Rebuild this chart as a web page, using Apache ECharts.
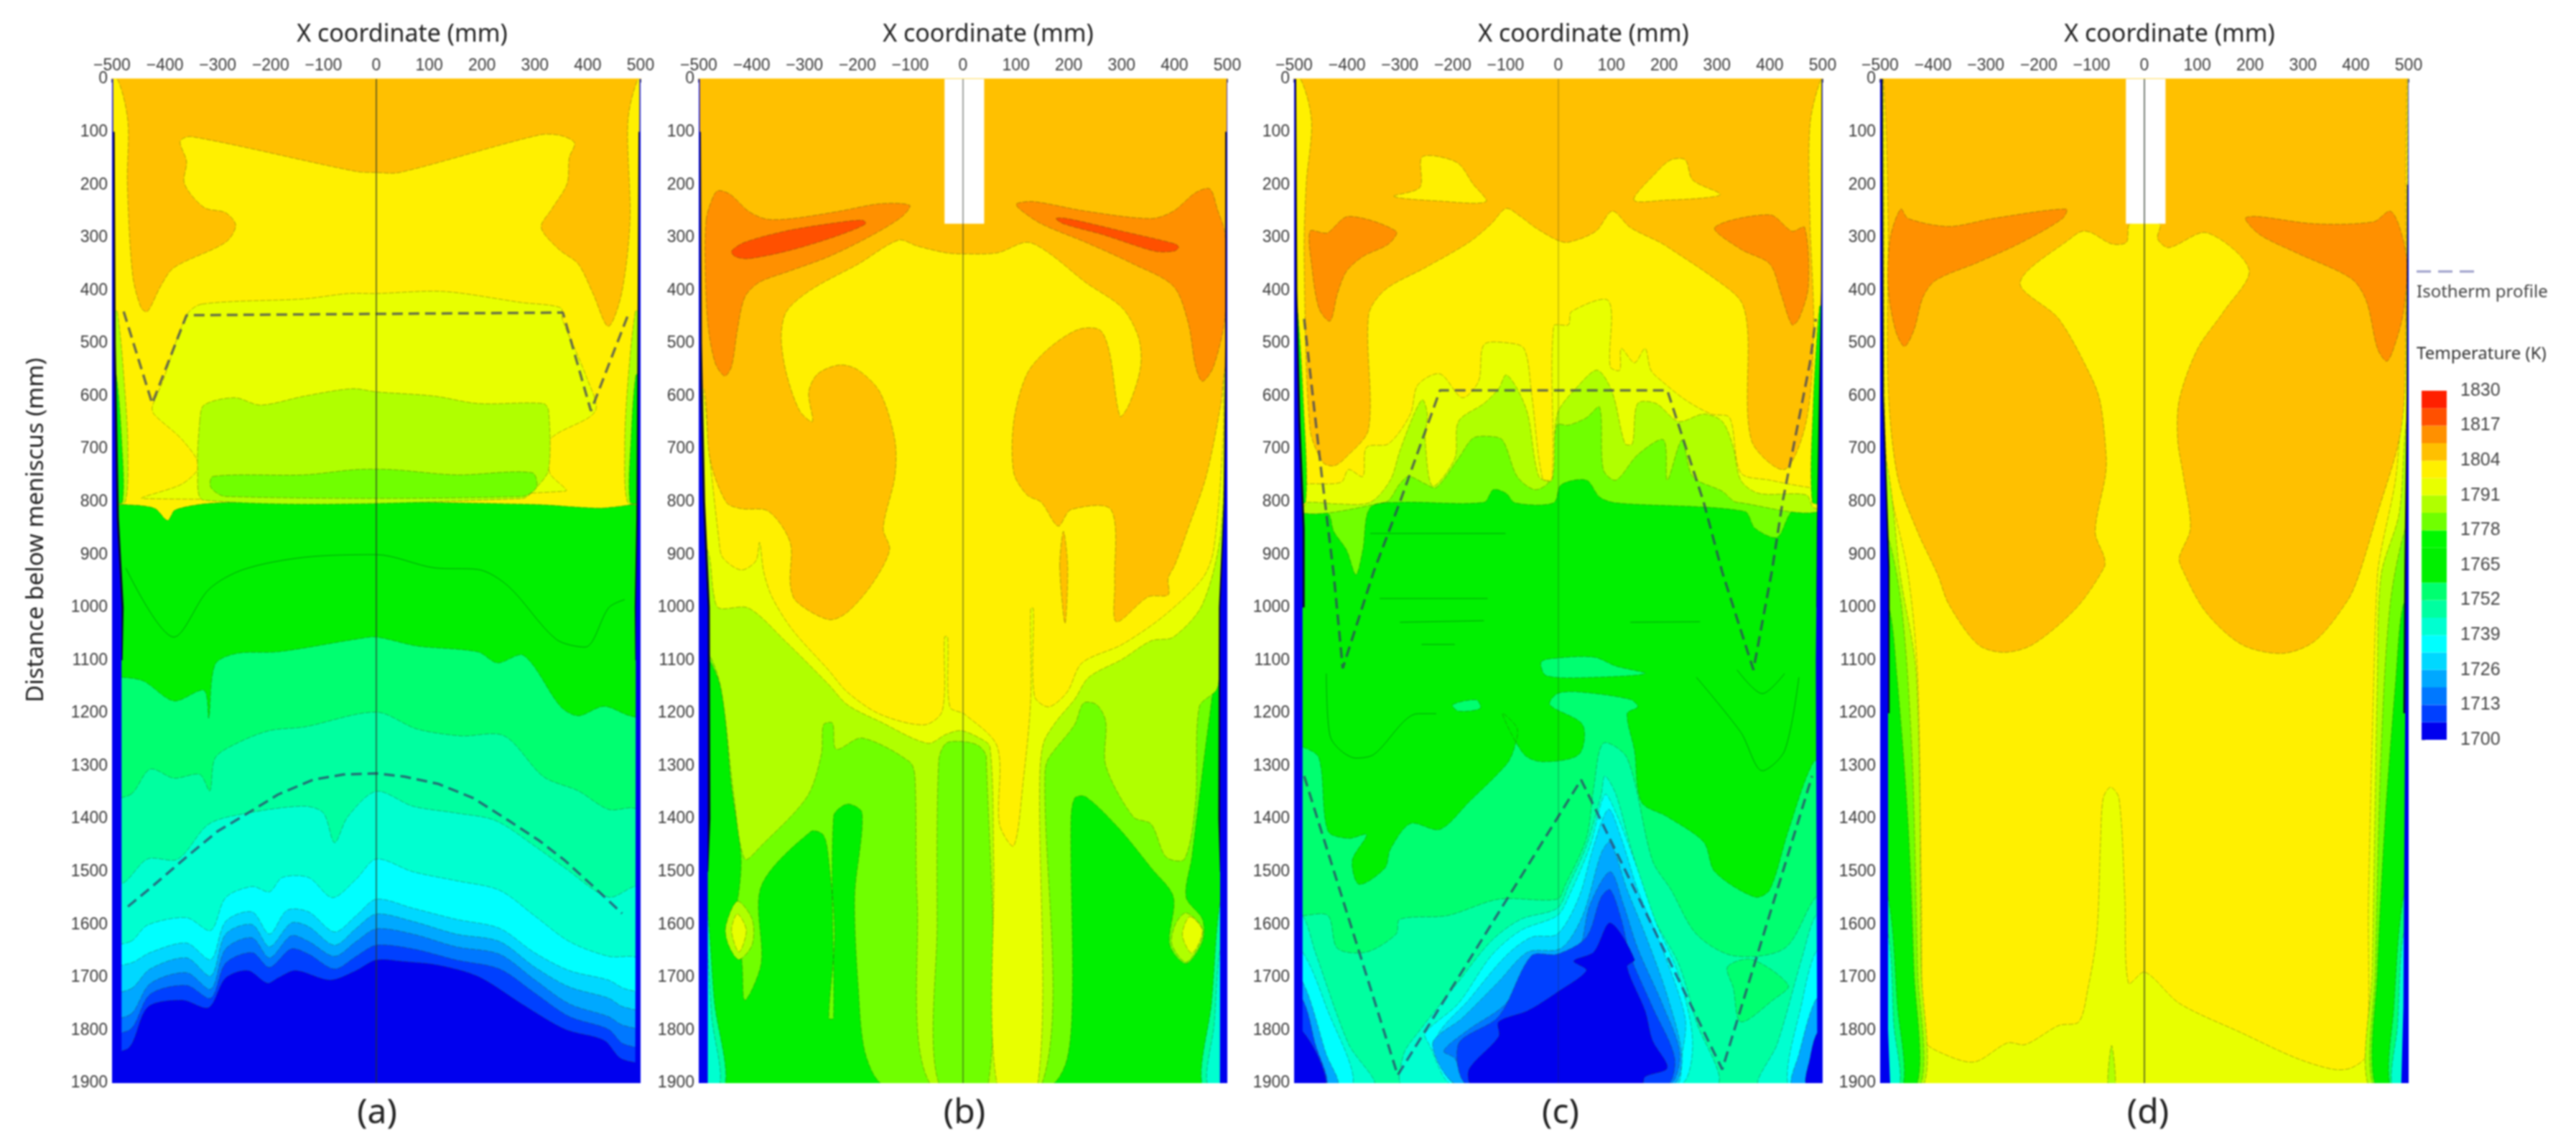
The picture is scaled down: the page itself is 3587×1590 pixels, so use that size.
<!DOCTYPE html>
<html><head><meta charset="utf-8">
<style>html,body{margin:0;padding:0;background:#fff}#c{width:3587px;height:1590px}canvas{filter:blur(1px)}</style>
<script src="https://cdn.jsdelivr.net/npm/echarts@6/dist/echarts.min.js"></script>
</head><body><div id="c"></div>
<script>
// ---------- colour scale ----------
const bandColors=['#0000ee','#0040ff','#0078ff','#00a8ff','#00d8ff','#00ffff','#00ffd0','#00ffa0','#00ff70','#00f000','#00f000','#00f800','#70ff00','#b0ff00','#e8ff00','#fff000','#ffc000','#ff9000','#ff5000','#ff2000','#0a0a30','#ffffff'];
const bandLows=[1700,1706.5,1713,1719.5,1726,1732.5,1739,1745.5,1752,1758.5,1765,1771.5,1778,1784.5,1791,1797.5,1804,1810.5,1817,1823.5];
const tempTicks=[1700,1713,1726,1739,1752,1765,1778,1791,1804,1817,1830];
const xTicks=[-500,-400,-300,-200,-100,0,100,200,300,400,500];
const INK=20,WHITE=21;
const full=[[-510,-10],[510,-10],[510,1910],[-510,1910]];
const notch=[[-35,-10],[40,-10],[40,274],[-35,274]];
function up(p){return p.concat([[510,p[p.length-1][1]],[510,-10],[-510,-10],[-510,p[0][1]]]);}

// ---------- panel (a) contours, mm ----------
const a_c1=[[-482,1132],[-441,1139],[-383,1177],[-326,1157],[-317,1209],[-305,1108],[-264,1087],[-186,1084],[-38,1060],[0,1056],[77,1073],[192,1084],[229,1105],[279,1091],[349,1188],[382,1205],[431,1187],[480,1205]];
const a_c2=[[-465,1354],[-428,1306],[-383,1323],[-334,1316],[-315,1347],[-305,1285],[-264,1257],[-202,1233],[-136,1226],[0,1198],[77,1230],[160,1243],[242,1243],[316,1320],[382,1347],[439,1382],[480,1379]];
const a_c3=[[-478,1521],[-433,1476],[-375,1476],[-317,1410],[-243,1389],[-136,1376],[-100,1389],[-79,1445],[-54,1396],[0,1348],[69,1376],[151,1389],[225,1403],[299,1451],[357,1493],[439,1548],[488,1528]];
const a_c4=[[-465,1632],[-433,1601],[-359,1587],[-313,1611],[-285,1549],[-235,1528],[-202,1538],[-178,1511],[-128,1511],[-83,1549],[-38,1514],[0,1476],[69,1500],[151,1517],[233,1535],[299,1583],[365,1632],[439,1660],[480,1660]];
const a_c5=[[-465,1673],[-428,1653],[-359,1635],[-313,1666],[-285,1594],[-235,1576],[-202,1618],[-169,1573],[-128,1576],[-79,1614],[-38,1583],[0,1552],[69,1569],[151,1590],[233,1607],[299,1653],[365,1687],[439,1705],[472,1722]];
const a_c6=[[-465,1722],[-428,1684],[-359,1663],[-313,1697],[-285,1618],[-235,1600],[-202,1642],[-161,1597],[-128,1604],[-79,1639],[-38,1607],[0,1580],[69,1594],[151,1618],[233,1632],[299,1680],[365,1718],[439,1739],[468,1756]];
const a_c7=[[-465,1770],[-428,1712],[-359,1691],[-313,1722],[-285,1646],[-235,1625],[-202,1663],[-161,1621],[-128,1632],[-79,1660],[-38,1632],[0,1608],[69,1618],[151,1642],[233,1656],[299,1704],[365,1750],[439,1774],[468,1791]];
const a_c8=[[-465,1798],[-428,1732],[-359,1715],[-313,1739],[-285,1673],[-235,1653],[-202,1681],[-161,1646],[-128,1656],[-79,1684],[-38,1660],[0,1639],[69,1646],[151,1667],[233,1684],[299,1729],[365,1774],[439,1798],[468,1826]];
const a_c9=[[-468,1833],[-432,1756],[-367,1743],[-317,1757],[-285,1701],[-243,1687],[-206,1711],[-186,1701],[-153,1687],[-87,1705],[-38,1687],[0,1667],[53,1670],[118,1677],[192,1698],[275,1750],[357,1798],[431,1819],[464,1854]];
const a_yellow=[[-480,805],[-420,812],[-395,835],[-380,815],[-300,802],[0,800],[300,805],[420,812],[465,808],[485,805]];
const a_e8=[[-330,426],[-359,447],[-404,572],[-424,621],[-420,635],[-367,683],[-336,732],[-367,766],[-441,794],[357,780],[328,745],[328,683],[414,629],[398,565],[352,455],[349,433],[275,423],[127,402],[0,406],[-54,406],[-136,416]];
const a_lime=[[-334,648],[-326,617],[-268,603],[-219,617],[-136,600],[-46,586],[0,592],[110,600],[192,614],[316,614],[326,628],[326,739],[303,773],[275,794],[-326,797],[-338,739]];
const a_70=[[-309,752],[-136,749],[-38,739],[28,739],[151,749],[295,745],[303,773],[275,790],[-285,790],[-313,773]];
const a_orange=[[-490,0],[-470,80],[-471,198],[-461,371],[-445,433],[-433,440],[-408,392],[-383,357],[-285,309],[-266,277],[-285,253],[-326,243],[-363,198],[-359,156],[-371,118],[-350,109],[-38,175],[0,177],[44,177],[308,106],[349,107],[375,121],[365,149],[361,198],[332,246],[312,281],[345,322],[382,350],[410,406],[439,468],[464,406],[480,267],[476,80],[495,0]];
const a_wallL13=[[-490,440],[-475,600],[-470,700],[-475,800],[-500,800],[-500,440]];
const a_wallL9=[[-492,560],[-482,680],[-480,800],[-500,800],[-500,560]];
const a_wallR13=[[490,440],[474,600],[470,700],[475,800],[500,800],[500,440]];
const a_wallR9=[[491,560],[482,680],[480,800],[500,800],[500,560]];
const a_inkL=[[-500,100],[-495,100],[-493,500],[-487,830],[-478,1000],[-480,1100],[-500,1100]];
const a_inkR=[[500,100],[496,100],[494,500],[492,830],[489,1000],[490,1100],[500,1100]];
const a_blueL=[[-500,0],[-498,0],[-497,500],[-491,830],[-482,1000],[-482,1900],[-500,1900]];
const a_blueR=[[500,0],[498,0],[497,500],[495,830],[491,1000],[490,1900],[500,1900]];
const a_line1=[[-474,925],[-383,1056],[-317,966],[-251,928],[-136,905],[0,900],[110,925],[192,928],[250,960],[340,1060],[395,1075],[440,1000],[470,985]];
const a_iso1=[[-478,440],[-424,614],[-359,447],[353,442],[406,628],[476,447]];
const a_iso2=[[-470,1566],[-424,1528],[-359,1472],[-301,1424],[-243,1389],[-186,1354],[-120,1326],[-62,1316],[0,1314],[53,1320],[118,1334],[184,1361],[250,1403],[308,1441],[357,1479],[414,1531],[465,1579]];

// ---------- panel (b) contours, mm ----------
const b_12=[[-490,1084],[-458,1153],[-438,1340],[-420,1472],[-427,1556],[-444,1608],[-420,1660],[-413,1743],[-382,1674],[-382,1528],[-288,1424],[-264,1431],[-254,1479],[-243,1618],[-254,1777],[-245,1777],[-245,1396],[-219,1372],[-191,1389],[-205,1548],[-198,1722],[-184,1847],[-146,1905],[162,1905],[197,1854],[207,1722],[204,1410],[211,1361],[232,1358],[294,1417],[356,1493],[398,1548],[391,1638],[422,1674],[453,1632],[453,1590],[422,1548],[433,1472],[467,1202],[488,1077]];
const b_13=[[-484,1084],[-458,1153],[-434,1354],[-413,1476],[-382,1451],[-295,1358],[-268,1278],[-264,1222],[-247,1219],[-240,1268],[-191,1247],[-101,1292],[-91,1320],[-87,1548],[-60,1905],[148,1905],[155,1313],[162,1285],[211,1222],[228,1181],[253,1184],[270,1216],[270,1299],[322,1396],[356,1410],[384,1472],[419,1476],[440,1368],[447,1188],[481,1153],[488,1070]];
const b_inner=[[-46,1900],[-49,1600],[-46,1290],[-32,1257],[3,1254],[30,1262],[44,1283],[48,1900]];
const b_14=[[-484,890],[-472,973],[-462,1001],[-406,1001],[-337,1063],[-254,1146],[-219,1184],[-157,1216],[-67,1257],[-32,1240],[-4,1233],[31,1247],[51,1264],[58,1479],[65,1905],[141,1905],[145,1327],[152,1257],[176,1216],[211,1174],[238,1132],[301,1098],[356,1063],[398,1056],[453,994],[488,855],[500,544]];
const b_15=[[-493,586],[-479,718],[-462,870],[-455,905],[-420,929],[-392,912],[-385,877],[-377,933],[-361,981],[-323,1042],[-254,1119],[-219,1160],[-157,1202],[-73,1222],[-39,1195],[-35,1056],[-29,1056],[-25,1188],[3,1202],[65,1264],[69,1410],[96,1451],[114,1327],[128,1174],[128,1002],[133,1002],[135,1167],[162,1188],[197,1160],[225,1105],[301,1070],[381,1015],[453,945],[474,891],[492,683],[495,544]];
const b_16=[[-490,586],[-479,718],[-448,801],[-420,813],[-368,818],[-327,877],[-327,954],[-316,988],[-254,1023],[-219,1009],[-171,954],[-139,891],[-151,850],[-129,752],[-129,683],[-157,593],[-198,551],[-233,541],[-275,558],[-292,593],[-285,648],[-309,628],[-334,558],[-344,489],[-334,440],[-288,399],[-198,350],[-122,305],[-87,316],[-32,329],[0,331],[65,329],[121,309],[162,329],[232,385],[301,433],[332,489],[336,544],[315,614],[297,638],[277,517],[259,475],[218,474],[162,510],[121,558],[96,648],[96,745],[121,787],[148,801],[180,846],[204,815],[280,815],[287,954],[290,1027],[350,980],[388,976],[388,945],[401,919],[426,850],[460,752],[488,614],[497,544]];
const b_spike=[[183,923],[190,856],[198,923],[193,1030]];
const b_17L=[[-486,267],[-479,239],[-465,212],[-441,218],[-406,250],[-372,265],[-323,264],[-233,250],[-157,236],[-101,239],[-115,260],[-171,295],[-254,336],[-330,364],[-386,385],[-413,413],[-427,475],[-438,544],[-451,562],[-469,537],[-483,461],[-488,336]];
const b_18L=[[-438,326],[-413,309],[-337,288],[-254,274],[-191,267],[-184,274],[-233,295],[-323,323],[-406,340],[-431,336]];
const b_17R=[[101,236],[134,232],[232,250],[356,264],[398,250],[440,215],[467,208],[481,246],[496,295],[496,447],[474,544],[453,572],[440,544],[426,461],[398,392],[322,350],[232,309],[148,274],[107,246]];
const b_18R=[[176,264],[197,264],[301,288],[401,312],[408,319],[398,326],[363,326],[266,295],[190,274]];
const b_elL13=[[-427,1556],[-399,1590],[-399,1638],[-424,1666],[-444,1638],[-449,1604]];
const b_elL14=[[-427,1580],[-410,1611],[-424,1652],[-438,1611]];
const b_elR13=[[422,1578],[452,1605],[450,1633],[422,1671],[395,1637],[402,1599]];
const b_elR14=[[429,1585],[453,1612],[433,1654],[415,1620]];
const b_c7L=[[-486,1560],[-470,1750],[-450,1900],[-500,1900],[-500,1560]];
const b_c6L=[[-486,1640],[-475,1780],[-460,1900],[-500,1900],[-500,1640]];
const b_c7R=[[486,1560],[470,1750],[452,1900],[500,1900],[500,1560]];
const b_c6R=[[486,1650],[475,1790],[462,1900],[500,1900],[500,1650]];
const b_inkL=[[-500,100],[-496,100],[-494,500],[-488,800],[-479,1000],[-478,1400],[-482,1500],[-500,1500]];
const b_inkR=[[500,100],[496,100],[496,500],[493,800],[484,1000],[483,1400],[486,1500],[500,1500]];
const b_blueL=[[-500,0],[-498,0],[-497,600],[-492,800],[-483,1000],[-483,1900],[-500,1900]];
const b_blueR=[[500,0],[499,0],[498,600],[495,800],[487,1000],[486,1900],[500,1900]];

// ---------- panel (c) contours, mm ----------
const c_7=[[-510,-10],[510,-10],[510,1910],[-510,1910]];
const c_8=[[-484,1583],[-436,1583],[-418,1645],[-363,1652],[-307,1618],[-300,1590],[-210,1583],[-113,1552],[-2,1552],[12,1527],[53,1437],[67,1340],[85,1257],[130,1285],[178,1479],[213,1534],[261,1618],[331,1659],[428,1645],[487,1548]];
const c_8patch=[[320,1680],[366,1666],[435,1715],[407,1742],[345,1784],[331,1720]];
const c_lens=[[-33,1104],[-16,1097],[67,1094],[109,1111],[164,1125],[67,1132],[-23,1129]];
const c_lens2=[[-200,1184],[-155,1175],[-148,1191],[-189,1196]];
const c_9=[[-484,1264],[-453,1285],[-436,1423],[-397,1437],[-363,1430],[-390,1479],[-377,1524],[-328,1493],[-318,1458],[-280,1409],[-224,1420],[-169,1368],[-99,1298],[-85,1271],[-78,1229],[-106,1201],[-65,1278],[-30,1292],[39,1278],[46,1222],[-16,1184],[-2,1163],[39,1160],[136,1174],[150,1188],[130,1201],[144,1271],[157,1368],[206,1396],[275,1444],[296,1500],[372,1548],[400,1534],[435,1423],[483,1292]];
const c_b6=[[-293,1846],[-266,1805],[-189,1708],[-127,1631],[-71,1590],[-2,1569],[19,1527],[53,1451],[81,1354],[88,1319],[109,1354],[136,1451],[178,1583],[227,1673],[261,1784],[296,1905],[-293,1905]];
const c_b5=[[-252,1805],[-189,1749],[-127,1659],[-71,1611],[-2,1583],[19,1548],[60,1451],[88,1354],[109,1389],[144,1479],[185,1597],[227,1694],[254,1826],[227,1905],[-196,1905],[-245,1826]];
const c_b4=[[-231,1819],[-169,1742],[-99,1659],[-51,1624],[-2,1618],[39,1548],[67,1451],[95,1382],[119,1437],[150,1534],[199,1652],[240,1777],[234,1846],[220,1905],[-189,1905]];
const c_b3=[[-238,1826],[-182,1777],[-113,1708],[-58,1652],[5,1645],[46,1583],[81,1465],[98,1444],[130,1534],[164,1618],[206,1735],[234,1853],[213,1905],[-186,1905]];
const c_b2=[[-217,1839],[-169,1798],[-106,1756],[-44,1687],[33,1659],[60,1562],[98,1500],[123,1562],[150,1645],[199,1756],[230,1846],[206,1905],[-169,1905],[-196,1853]];
const c_b1=[[-189,1826],[-113,1774],[-51,1659],[-2,1656],[53,1624],[81,1548],[98,1534],[119,1590],[136,1659],[178,1756],[220,1853],[202,1905],[-169,1905]];
const c_b0=[[-169,1874],[-113,1812],[-113,1784],[-58,1763],[-2,1728],[53,1687],[29,1669],[67,1652],[98,1597],[144,1666],[130,1680],[164,1763],[178,1819],[206,1871],[164,1888],[157,1905],[-162,1905]];
const c_L6=[[-484,1583],[-460,1652],[-397,1826],[-349,1905],[-510,1905],[-510,1583]];
const c_L5=[[-484,1652],[-439,1756],[-390,1905],[-510,1905],[-510,1652]];
const c_L3=[[-484,1708],[-439,1846],[-418,1905],[-510,1905],[-510,1708]];
const c_L1=[[-484,1742],[-460,1826],[-439,1905],[-510,1905],[-510,1742]];
const c_L0=[[-488,1798],[-453,1853],[-442,1905],[-510,1905],[-510,1798]];
const c_R6=[[487,1583],[462,1659],[414,1826],[379,1905],[510,1905],[510,1583]];
const c_R5=[[487,1652],[462,1742],[435,1905],[510,1905],[510,1652]];
const c_R3=[[487,1742],[455,1846],[442,1905],[510,1905],[510,1742]];
const c_R0=[[490,1805],[476,1853],[469,1905],[510,1905],[510,1805]];
const c_12=[[-484,811],[-436,822],[-425,856],[-401,891],[-383,938],[-370,891],[-356,811],[-300,801],[-141,801],[-123,777],[-99,784],[-82,802],[-9,802],[5,768],[53,759],[78,791],[109,802],[352,818],[372,850],[414,867],[442,818],[483,811]];
const c_13=[[-328,801],[-300,766],[-283,752],[-252,766],[-231,773],[-189,718],[-162,680],[-134,676],[-106,683],[-78,752],[-44,777],[-16,759],[-3,655],[19,655],[53,641],[78,621],[85,739],[109,759],[150,711],[199,683],[206,759],[234,683],[254,752],[310,780],[338,801]];
const c_14=[[-484,811],[-474,801],[-418,804],[-356,801],[-318,759],[-300,704],[-273,634],[-257,607],[-248,634],[-252,683],[-238,770],[-196,718],[-189,648],[-141,614],[-113,586],[-99,560],[-78,586],[-58,634],[-37,752],[-12,759],[-2,634],[39,579],[74,551],[102,593],[126,690],[140,690],[150,614],[185,614],[227,648],[275,634],[310,648],[331,697],[345,759],[379,784],[469,787],[483,811]];
const c_15=[[-470,766],[-411,763],[-397,739],[-370,752],[-363,697],[-321,690],[-280,634],[-266,579],[-224,558],[-182,603],[-151,572],[-141,503],[-99,499],[-65,510],[-51,593],[-30,756],[-12,756],[-9,468],[19,465],[25,440],[95,420],[98,544],[116,551],[119,510],[144,537],[164,510],[175,551],[196,572],[240,607],[289,634],[324,641],[345,745],[400,759],[476,773]];
const c_16=[[-488,0],[-467,80],[-477,198],[-481,336],[-470,662],[-446,725],[-425,732],[-404,718],[-359,662],[-359,447],[-328,399],[-252,357],[-169,309],[-127,274],[-99,245],[-72,260],[-44,281],[-2,305],[19,309],[71,288],[102,250],[136,281],[192,309],[213,322],[296,378],[345,420],[358,475],[365,683],[428,739],[469,648],[483,475],[476,267],[476,87],[497,0]];
const c_17L=[[-470,288],[-446,291],[-436,291],[-397,260],[-307,288],[-321,312],[-370,336],[-401,364],[-418,406],[-432,458],[-453,434],[-467,350]];
const c_17R=[[296,281],[400,257],[442,288],[466,281],[473,392],[455,454],[442,465],[421,406],[400,350],[345,322]];
const c_yL=[[-311,222],[-262,205],[-259,149],[-231,146],[-189,160],[-162,198],[-137,232],[-224,231]];
const c_yR=[[143,229],[185,177],[213,153],[240,153],[254,191],[306,218],[275,225],[206,229]];
const c_wallL9=[[-494,430],[-482,620],[-478,800],[-500,800],[-500,430]];
const c_wallR9=[[494,430],[482,620],[480,800],[500,800],[500,430]];
const c_inkL=[[-500,0],[-496,0],[-494,400],[-488,650],[-480,850],[-480,1000],[-500,1000]];
const c_inkR=[[500,0],[498,0],[497,400],[492,650],[489,850],[488,1000],[500,1000]];
const c_blueL=[[-500,0],[-498,0],[-497,400],[-492,650],[-484,850],[-484,1900],[-500,1900]];
const c_blueR=[[500,0],[499,0],[498,400],[495,650],[490,850],[487,1100],[490,1900],[500,1900]];
const c_l1=[[-338,983],[-134,983]];
const c_l2=[[-300,1028],[-141,1025]];
const c_l3=[[-259,1070],[-196,1070]];
const c_l4=[[136,1028],[268,1027]];
const c_l5=[[-439,1125],[-432,1243],[-383,1285],[-349,1278],[-266,1201],[-231,1201]];
const c_l6=[[261,1132],[345,1236],[386,1309],[428,1271],[455,1132]];
const c_l7=[[338,1118],[386,1163],[428,1125]];
const c_l8=[[-356,860],[-100,860]];
const c_iso1=[[-481,454],[-467,579],[-449,739],[-425,938],[-408,1115],[-349,931],[-300,801],[-224,589],[206,589],[275,801],[310,933],[369,1118],[404,931],[424,801],[476,537],[487,454]];
const c_iso2=[[-481,1319],[-304,1885],[43,1326],[310,1874],[480,1319]];

// ---------- panel (d) contours, mm ----------
const d_15=[[-495,0],[-492,579],[-485,752],[-447,938],[-429,1132],[-422,1548],[-415,1819],[-384,1843],[-322,1860],[-259,1824],[-225,1827],[-162,1791],[-124,1784],[-107,1722],[-90,1618],[-83,1444],[-78,1361],[-64,1340],[-48,1361],[-37,1548],[-30,1711],[1,1690],[66,1749],[184,1805],[288,1853],[358,1874],[392,1871],[420,1846],[424,1548],[434,1132],[441,938],[448,891],[476,752],[486,610],[497,400],[500,0]];
const d_spike=[[-69,1905],[-62,1829],[-55,1905]];
const d_16=[[-494,0],[-485,267],[-485,579],[-467,752],[-429,857],[-391,938],[-370,994],[-315,1070],[-266,1085],[-211,1070],[-128,1000],[-76,924],[-76,905],[-93,857],[-74,752],[-72,718],[-83,614],[-100,565],[-162,454],[-235,385],[-135,298],[-117,288],[-100,291],[-62,312],[-34,309],[-27,274],[29,274],[25,302],[46,319],[118,291],[198,361],[150,440],[101,510],[66,607],[63,683],[74,752],[87,850],[66,905],[70,924],[115,1007],[184,1070],[261,1087],[323,1063],[385,986],[406,938],[441,822],[482,683],[493,579],[497,0]];
const d_17L=[[-461,246],[-447,264],[-370,279],[-287,264],[-148,246],[-155,264],[-232,309],[-315,347],[-395,381],[-419,413],[-436,475],[-454,506],[-471,475],[-485,392],[-481,302]];
const d_17R=[[191,264],[212,260],[323,274],[434,270],[465,250],[483,281],[497,350],[489,447],[469,517],[458,534],[441,510],[420,420],[392,378],[288,329],[219,295]];
const d_L13=[[-488,725],[-462,938],[-431,1132],[-422,1687],[-418,1905],[-510,1905],[-510,725]];
const d_L12=[[-490,850],[-460,994],[-440,1271],[-429,1687],[-424,1905],[-510,1905],[-510,850]];
const d_L9=[[-485,994],[-468,1132],[-447,1410],[-436,1687],[-431,1905],[-510,1905],[-510,994]];
const d_L8=[[-485,1548],[-467,1756],[-457,1905],[-510,1905],[-510,1548]];
const d_L6=[[-485,1618],[-474,1791],[-464,1905],[-510,1905],[-510,1618]];
const d_L0=[[-500,0],[-498,0],[-496,600],[-485,924],[-485,1798],[-481,1900],[-500,1900]];
const d_R13=[[496,650],[482,822],[448,938],[441,1132],[431,1687],[424,1905],[510,1905],[510,650]];
const d_R12=[[494,850],[465,994],[448,1271],[437,1687],[433,1905],[510,1905],[510,850]];
const d_R9=[[490,994],[476,1132],[455,1410],[441,1687],[437,1905],[510,1905],[510,994]];
const d_R8=[[490,1548],[472,1756],[465,1905],[510,1905],[510,1548]];
const d_R6=[[490,1618],[479,1791],[469,1905],[510,1905],[510,1618]];
const d_R0=[[500,0],[499,0],[498,600],[495,924],[490,1756],[486,1900],[500,1900]];
const d_inkL=[[-500,0],[-495,0],[-493,600],[-482,924],[-482,1200],[-500,1200]];
const d_inkR=[[500,200],[497,200],[496,600],[492,924],[490,1200],[500,1200]];

// ---------- region stacks, painted in order: [band, points, smooth] ----------
const panelA=[[0,full,0],[1,up(a_c9)],[2,up(a_c8)],[3,up(a_c7)],[4,up(a_c6)],[5,up(a_c5)],[6,up(a_c4)],[7,up(a_c3)],[8,up(a_c2)],[9,up(a_c1)],[15,up(a_yellow)],[14,a_e8],[13,a_lime],[12,a_70],[16,up(a_orange)],[13,a_wallL13],[9,a_wallL9],[13,a_wallR13],[9,a_wallR9],[INK,a_inkL,0],[INK,a_inkR,0],[0,a_blueL,0],[0,a_blueR,0]];
const panelB=[[9,full,0],[7,b_c7L],[6,b_c6L],[7,b_c7R],[6,b_c6R],[12,up(b_12)],[13,up(b_13)],[12,b_inner],[13,b_elL13],[14,b_elL14],[13,b_elR13],[14,b_elR14],[14,up(b_14)],[15,up(b_15)],[16,up(b_16)],[16,b_spike],[17,b_17L],[18,b_18L],[17,b_17R],[18,b_18R],[INK,b_inkL,0],[INK,b_inkR,0],[0,b_blueL,0],[0,b_blueR,0],[WHITE,notch,0]];
const panelC=[[7,c_7,0],[8,up(c_8)],[8,c_8patch],[6,c_b6],[5,c_b5],[4,c_b4],[3,c_b3],[2,c_b2],[1,c_b1],[0,c_b0],[6,c_L6],[5,c_L5],[3,c_L3],[1,c_L1],[0,c_L0],[6,c_R6],[5,c_R5],[3,c_R3],[0,c_R0],[9,up(c_9)],[8,c_lens],[8,c_lens2],[12,up(c_12)],[13,up(c_13)],[14,up(c_14)],[15,up(c_15)],[16,up(c_16)],[17,c_17L],[17,c_17R],[15,c_yL],[15,c_yR],[9,c_wallL9],[9,c_wallR9],[INK,c_inkL,0],[INK,c_inkR,0],[0,c_blueL,0],[0,c_blueR,0]];
const panelD=[[14,full,0],[15,up(d_15)],[13,d_spike],[16,up(d_16)],[17,d_17L],[17,d_17R],[13,d_L13],[12,d_L12],[9,d_L9],[8,d_L8],[6,d_L6],[13,d_R13],[12,d_R12],[9,d_R9],[8,d_R8],[6,d_R6],[INK,d_inkL,0],[INK,d_inkR,0],[0,d_L0,0],[0,d_R0,0],[WHITE,notch,0]];

const centerLine=[[0,0],[0,1900]];
const centerAlpha=[0.85,0.6,0.3,0.85];
const grids=[156,973,1802,2618];
const panels=[panelA,panelB,panelC,panelD];
const isos=[[a_iso1,a_iso2],[],[c_iso1,c_iso2],[]];
const thin=[[a_line1],[],[c_l1,c_l2,c_l3,c_l4,c_l5,c_l6,c_l7,c_l8],[]];
const xTitleX=[560,1376,2205,3021];
const caption=['(a)','(b)','(c)','(d)'];
const captionX=[525,1343,2173,2991];

const AXF='"Liberation Sans"',TF='"Noto Sans"';
const option={animation:false,backgroundColor:'#fff',grid:[],xAxis:[],yAxis:[],series:[],graphic:[]};
grids.forEach((L,i)=>{
  option.grid.push({left:L,top:110,width:736,height:1398});
  option.xAxis.push({type:'value',gridIndex:i,position:'top',min:-500,max:500,interval:100,
    axisLine:{show:true,onZero:false,lineStyle:{color:'#ffdc50',width:2}},
    axisTick:{show:true,inside:true,length:5,lineStyle:{color:'#333',width:1.5}},
    minorTick:{show:true,splitNumber:2,length:3,lineStyle:{color:'#555'}},
    splitLine:{show:false},
    axisLabel:{show:true,margin:7,fontFamily:AXF,fontSize:23,color:'#3a3a3a',formatter:v=>String(v).replace('-','\u2212')}});
  option.yAxis.push({type:'value',gridIndex:i,inverse:true,min:0,max:1900,interval:100,
    axisLine:{show:false},axisTick:{show:false},splitLine:{show:false},
    axisLabel:{show:true,margin:6,fontFamily:AXF,fontSize:23,color:'#3a3a3a',formatter:v=>String(v)}});
  const regs=panels[i];
  option.series.push({type:'custom',xAxisIndex:i,yAxisIndex:i,clip:true,silent:true,z:1,
    data:regs.map(()=>[0,0]),
    renderItem:(p,api)=>{
      const r=regs[p.dataIndex];
      const pts=r[1].map(q=>api.coord(q));
      const plain=r[2]===0;
      return {type:'polygon',shape:{points:pts,smooth:plain?0:0.3},
        style:{fill:bandColors[r[0]],stroke:plain?null:'rgba(50,60,20,0.38)',lineWidth:1,lineDash:[7,2]}};
    }});
  thin[i].forEach(d=>option.series.push({type:'line',xAxisIndex:i,yAxisIndex:i,data:d,showSymbol:false,smooth:0.3,silent:true,z:2,
    lineStyle:{color:'rgba(0,90,20,0.55)',width:1}}));
  isos[i].forEach(d=>option.series.push({type:'line',xAxisIndex:i,yAxisIndex:i,data:d,showSymbol:false,silent:true,z:3,
    lineStyle:{color:'rgba(50,55,100,0.7)',width:3.5,type:[15,8]}}));
  option.series.push({type:'line',xAxisIndex:i,yAxisIndex:i,data:centerLine,showSymbol:false,silent:true,z:4,
    lineStyle:{color:'rgba(40,50,40,'+centerAlpha[i]+')',width:1.5}});
  option.graphic.push({type:'text',x:xTitleX[i],y:48,style:{text:'X coordinate (mm)',fontFamily:TF,fontSize:34,fill:'#222',textAlign:'center',textVerticalAlign:'middle'}});
  option.graphic.push({type:'text',x:captionX[i],y:1550,style:{text:caption[i],fontFamily:TF,fontSize:48,fill:'#222',textAlign:'center',textVerticalAlign:'middle'}});
});
// colour bar
option.grid.push({left:3372,top:544,width:35,height:486});
option.xAxis.push({type:'value',gridIndex:4,min:0,max:1,show:false});
option.yAxis.push({type:'value',gridIndex:4,position:'right',min:1700,max:1830,
  axisLine:{show:false},splitLine:{show:false},
  axisTick:{show:true,length:5,lineStyle:{color:'#bbb'},customValues:tempTicks},
  axisLabel:{show:true,margin:19,fontFamily:AXF,fontSize:25,color:'#444',customValues:tempTicks,formatter:v=>String(v)}});
option.series.push({type:'custom',xAxisIndex:4,yAxisIndex:4,silent:true,data:bandLows.map((t,k)=>[k,t]),
  renderItem:(p,api)=>{
    const k=api.value(0),lo=api.value(1);
    const a=api.coord([0,lo+6.5]),b=api.coord([1,lo]);
    return {type:'rect',shape:{x:a[0],y:a[1],width:b[0]-a[0],height:b[1]-a[1]},style:{fill:bandColors[k]}};
  }});
option.graphic.push(
  {type:'text',x:51,y:738,rotation:Math.PI/2,style:{text:'Distance below meniscus (mm)',fontFamily:TF,fontSize:33,fill:'#222',textAlign:'center',textVerticalAlign:'middle'}},
  {type:'line',shape:{x1:3365,y1:378,x2:3445,y2:378},style:{stroke:'#9a9cc8',lineWidth:3,lineDash:[20,10]}},
  {type:'text',x:3365,y:407,style:{text:'Isotherm profile',fontFamily:TF,fontSize:24,fill:'#444',textVerticalAlign:'middle'}},
  {type:'text',x:3365,y:493,style:{text:'Temperature (K)',fontFamily:TF,fontSize:24,fill:'#333',textVerticalAlign:'middle'}}
);
const chart=echarts.init(document.getElementById('c'),null,{width:3587,height:1590,renderer:'canvas'});
chart.setOption(option);
</script></body></html>
